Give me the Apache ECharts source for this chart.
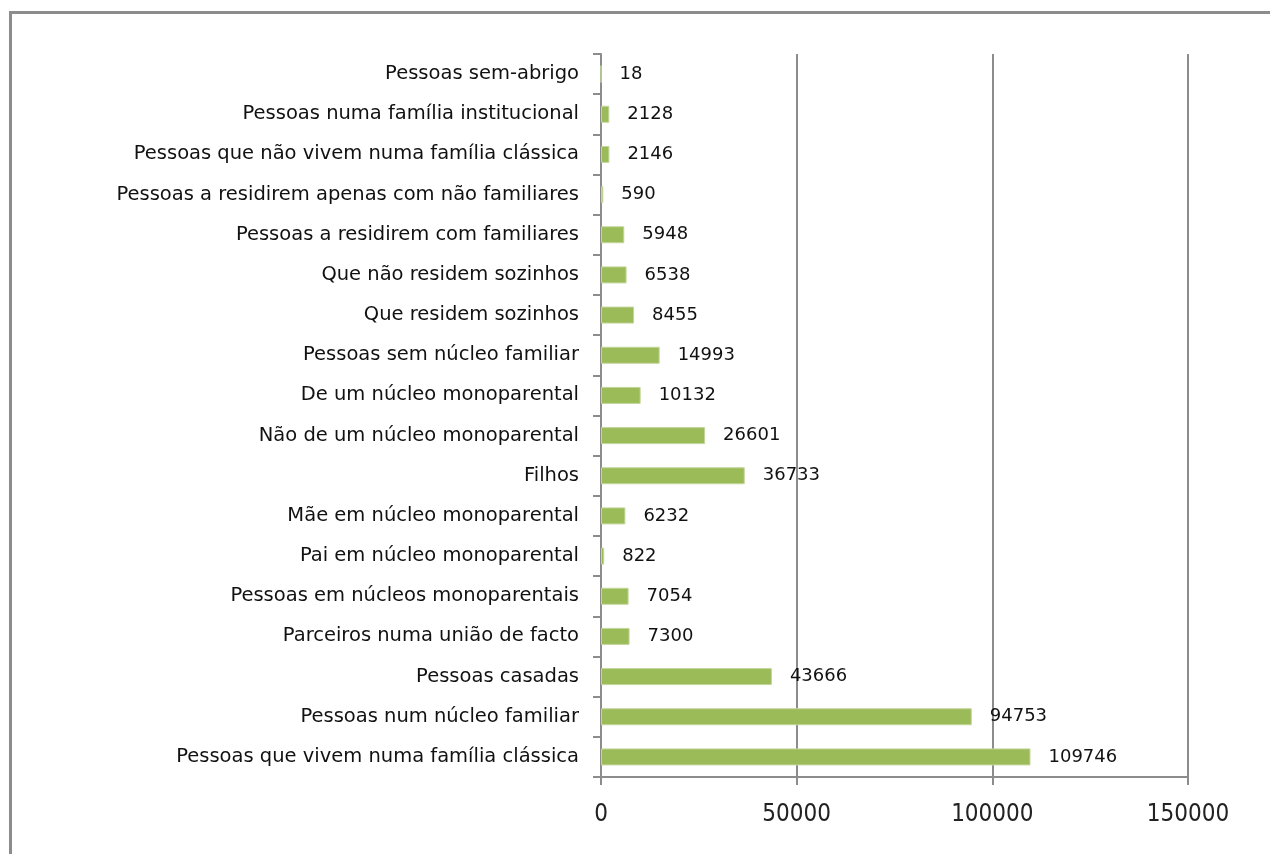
<!DOCTYPE html>
<html>
<head>
<meta charset="utf-8">
<script src="https://cdn.jsdelivr.net/npm/echarts@6/dist/echarts.min.js"></script>
<style>
html, body { margin: 0; padding: 0; background: #fff; }
#frame { position: absolute; left: 9px; top: 11px; width: 1300px; height: 900px; border: 3px solid #8c8c8c; box-sizing: border-box; }
#chart { position: absolute; left: 0; top: 0; width: 1270px; height: 854px; }
</style>
</head>
<body>
<div id="frame"></div>
<div id="chart"></div>
<script>
// categorias de baixo para cima
var categorias = [
    "Pessoas que vivem numa família clássica",
    "Pessoas num núcleo familiar",
    "Pessoas casadas",
    "Parceiros numa união de facto",
    "Pessoas em núcleos monoparentais",
    "Pai em núcleo monoparental",
    "Mãe em núcleo monoparental",
    "Filhos",
    "Não de um núcleo monoparental",
    "De um núcleo monoparental",
    "Pessoas sem núcleo familiar",
    "Que residem sozinhos",
    "Que não residem sozinhos",
    "Pessoas a residirem com familiares",
    "Pessoas a residirem apenas com não familiares",
    "Pessoas que não vivem numa família clássica",
    "Pessoas numa família institucional",
    "Pessoas sem-abrigo"
];
var valores = [109746, 94753, 43666, 7300, 7054, 822, 6232, 36733, 26601, 10132, 14993, 8455, 6538, 5948, 590, 2146, 2128, 18];

var dom = document.getElementById("chart");
var myChart = echarts.init(dom);
var option = {
    backgroundColor: 'transparent',
    animation: false,
    grid: {
        left: 601,
        right: 82,
        top: 54,
        bottom: 77
    },
    xAxis: {
        type: 'value',
        min: 0,
        max: 150000,
        interval: 50000,
        axisLine: { show: true, lineStyle: { color: '#8c8c8c', width: 2 } },
        axisTick: { show: true, length: 8, lineStyle: { color: '#8c8c8c', width: 2 } },
        axisLabel: {
            color: '#222', fontSize: 24, margin: 26, fontFamily: 'DejaVu Sans Condensed',
            formatter: function (v) { return String(v); }
        },
        splitLine: { show: true, lineStyle: { color: '#8c8c8c', width: 2 } }
    },
    yAxis: {
        type: 'category',
        data: categorias,
        axisLine: { show: true, lineStyle: { color: '#8c8c8c', width: 2 } },
        axisTick: { show: true, length: 8, lineStyle: { color: '#8c8c8c', width: 2 } },
        axisLabel: { color: '#111', fontSize: 19.5, margin: 22, fontFamily: 'DejaVu Sans' }
    },
    series: [{
        type: 'bar',
        data: valores,
        barWidth: 17,
        itemStyle: { color: '#9bbb59', borderColor: '#c3d69b', borderWidth: 1 },
        label: {
            show: true,
            position: 'right',
            distance: 18,
            color: '#111',
            fontSize: 18,
            fontFamily: 'DejaVu Sans'
        }
    }]
};
myChart.setOption(option, true);
</script>
</body>
</html>
